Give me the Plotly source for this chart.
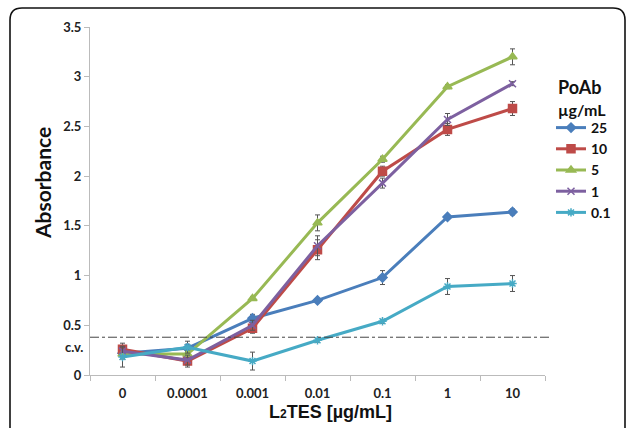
import plotly.graph_objects as go

categories = ["0", "0.0001", "0.001", "0.01", "0.1", "1", "10"]
series_names = ["25", "10", "5", "1", "0.1"]
abs_25 = [0.22, 0.27, 0.57, 0.75, 0.98, 1.59, 1.64]
abs_10 = [0.26, 0.14, 0.47, 1.26, 2.05, 2.47, 2.68]
abs_5 = [0.21, 0.21, 0.77, 1.53, 2.17, 2.90, 3.20]
abs_1 = [0.24, 0.15, 0.50, 1.30, 1.93, 2.57, 2.93]
abs_01 = [0.18, 0.28, 0.14, 0.35, 0.54, 0.89, 0.92]
err_25 = [0.05, 0.04, 0.04, 0.02, 0.07, 0.02, 0.03]
err_10 = [0.06, 0.06, 0.05, 0.10, 0.05, 0.06, 0.07]
err_5 = [0.05, 0.03, 0.02, 0.08, 0.03, 0.02, 0.08]
err_1 = [0.05, 0.05, 0.05, 0.10, 0.05, 0.06, 0.02]
err_01 = [0.10, 0.06, 0.09, 0.02, 0.02, 0.08, 0.08]
cv_value = 0.38
y_ticks = [0, 0.5, 1, 1.5, 2, 2.5, 3, 3.5]

values = [abs_25, abs_10, abs_5, abs_1, abs_01]
errors = [err_25, err_10, err_5, err_1, err_01]
colors = ["#4A7EBB", "#BE4B48", "#98B954", "#7D60A0", "#46AAC5"]
symbols = ["diamond", "square", "triangle-up", "x-thin", "asterisk"]
sizes = [7, 8, 8, 7, 7]

FONT = "Lato"
W, H = 455, 348  # plot area px


def px_x(px):
    return (px - 90) / W


def px_y(py):
    return (375 - py) / H


fig = go.Figure()
for name, v, e, c, s, sz in zip(series_names, values, errors, colors, symbols, sizes):
    fig.add_trace(go.Scatter(
        x=categories, y=v, name=name, mode="lines+markers",
        line=dict(color=c, width=3),
        marker=dict(symbol=s, size=sz, color=c, line=dict(color=c, width=1.5)),
        error_y=dict(type="data", array=e, visible=True, color="#555555", thickness=1, width=2.5),
    ))

fig.add_shape(type="line", xref="paper", yref="y", x0=0, x1=1.011, y0=cv_value, y1=cv_value,
              line=dict(color="#444444", width=1, dash="dashdot"))
fig.add_annotation(text="c.v.", xref="paper", yref="y", x=-0.012, y=cv_value, xanchor="right",
                   yanchor="top", showarrow=False, font=dict(family=FONT, size=13, color="#222", weight="bold"))

# axis titles
fig.add_annotation(text="Absorbance", xref="paper", yref="paper", x=px_x(42), y=px_y(183),
                   textangle=-90, showarrow=False, xanchor="center", yanchor="middle",
                   font=dict(family=FONT, size=21, color="#111", weight="bold"))
fig.add_annotation(text="L<span style='font-size:12px'>2</span>TES [µg/mL]", xref="paper", yref="paper",
                   x=px_x(330), y=px_y(412), showarrow=False, xanchor="center", yanchor="middle",
                   font=dict(family="Liberation Sans", size=18, color="#111", weight="bold"))

# legend title
fig.add_annotation(text="PoAb", xref="paper", yref="paper", x=px_x(556), y=px_y(87),
                   xanchor="left", yanchor="middle", showarrow=False,
                   font=dict(family=FONT, size=18, color="#111", weight="bold"))
fig.add_annotation(text="µg/mL", xref="paper", yref="paper", x=px_x(556), y=px_y(109),
                   xanchor="left", yanchor="middle", showarrow=False,
                   font=dict(family=FONT, size=16, color="#111", weight="bold"))

# rounded frame
L, T, R, B = px_x(10), px_y(8), px_x(625), -0.3
rx, ry = 12 / W, 12 / H
path = (f"M {L},{B} L {L},{T-ry} Q {L},{T} {L+rx},{T} L {R-rx},{T} Q {R},{T} {R},{T-ry} L {R},{B}")
fig.add_shape(type="path", xref="paper", yref="paper", path=path, line=dict(color="#111", width=1.6))

fig.update_layout(
    width=627, height=428, plot_bgcolor="white", paper_bgcolor="white",
    margin=dict(l=90, r=82, t=27, b=53, autoexpand=False),
    font=dict(family=FONT, color="#222"),
    showlegend=True,
    xaxis=dict(type="category", range=[-0.5, 6.5], tickson="boundaries", ticks="outside",
               ticklen=5, tickcolor="#BBBBBB", showline=True, linecolor="#BBBBBB", linewidth=1,
               showgrid=False, ticklabelstandoff=6, tickfont=dict(size=13, weight="bold", color="#222")),
    yaxis=dict(range=[0, 3.5], tickvals=y_ticks, ticktext=[f"{t:g}" for t in y_ticks], ticks="outside",
               ticklen=5, tickcolor="#BBBBBB", showline=True, linecolor="#BBBBBB", linewidth=1,
               showgrid=False, zeroline=False, tickfont=dict(size=13, weight="bold", color="#222")),
    legend=dict(xref="container", yref="container", x=551 / 627, y=1 - 112 / 428, xanchor="left", yanchor="top",
                font=dict(size=14, weight="bold", color="#111"), itemwidth=30, tracegroupgap=0,
                bgcolor="rgba(0,0,0,0)"),
)

fig.write_html("out.html", config={"displayModeBar": False},
               post_script="document.body.style.margin='0';")
